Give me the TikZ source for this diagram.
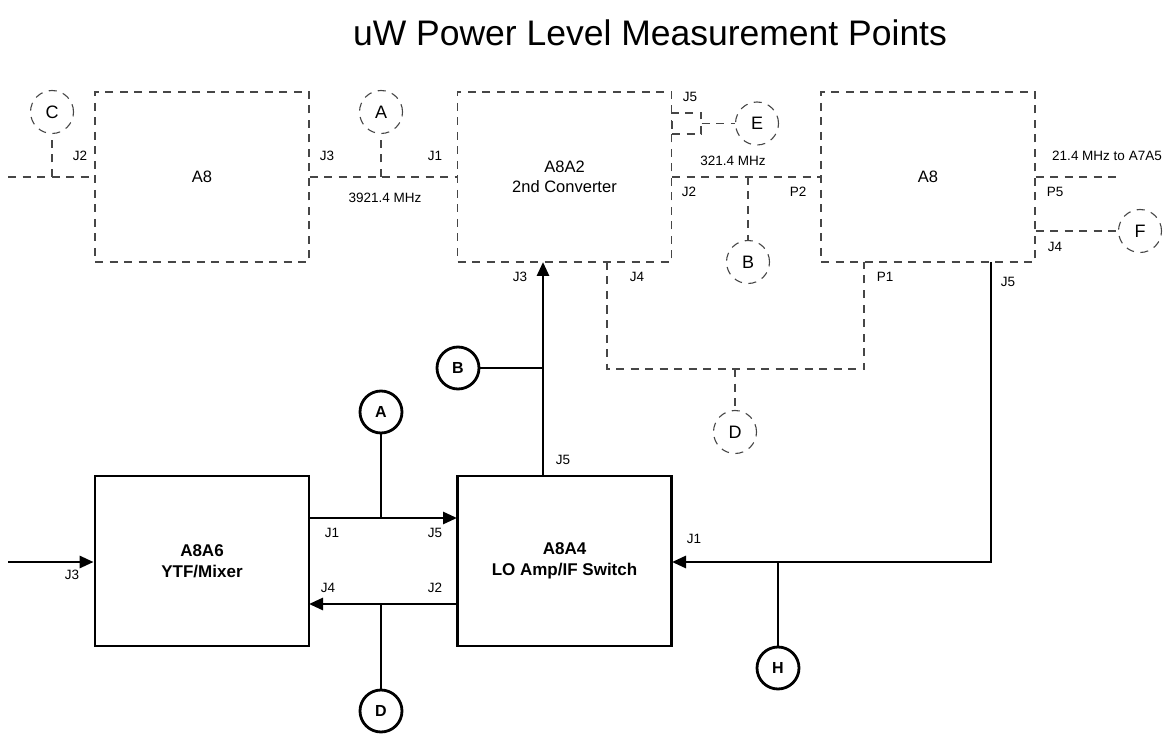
\documentclass[tikz,border=0pt]{standalone}
\usepackage{fontspec}
\setmainfont{Liberation Sans}
\usetikzlibrary{arrows.meta}
\definecolor{dgray}{RGB}{70,70,70}
\tikzset{
  dline/.style={draw=dgray, line width=1.1pt, dash pattern=on 8pt off 6.5pt},
  dbox/.style={dline, rectangle, minimum width=214pt, minimum height=170pt, inner sep=0pt, font=\fontsize{16.5}{20}\selectfont, align=center},
  sline/.style={draw=black, line width=2.8pt},
  sbox/.style={sline, rectangle, minimum width=214pt, minimum height=170pt, inner sep=0pt, font=\bfseries\fontsize{17}{21}\selectfont, align=center},
  dcirc/.style={dline, circle, minimum size=43pt, inner sep=0pt, font=\fontsize{18}{20}\selectfont},
  scirc/.style={sline, circle, minimum size=42pt, inner sep=0pt, font=\bfseries\fontsize{16}{18}\selectfont},
  lbl/.style={inner sep=0pt, font=\fontsize{13.5}{15}\selectfont},
  arr/.style={sline, -{Triangle[length=14pt,width=12pt]}},
}
\begin{document}
\begin{tikzpicture}[x=1pt,y=-1pt]
\useasboundingbox (0,0) rectangle (1175,735);
\node[font=\fontsize{35.5}{40}\selectfont, inner sep=0pt] (title) at (650,33) {uW Power Level Measurement Points};

% top row (dashed)
\node[dbox] (a8l) at (202,177) {A8};
\node[dbox] (a8a2) at (564.5,177) {A8A2\\2nd Converter};
\node[dbox] (a8r) at (928,177) {A8};
\node[dline, rectangle, minimum width=29pt, minimum height=21pt, inner sep=0pt] (j5box) at (686.5,123.5) {};

\node[dcirc] (Ct) at (52,112) {C};
\node[dcirc] (At) at (381,112) {A};
\node[dcirc] (Et) at (757,123.5) {E};
\node[dcirc] (Bt) at (748,262) {B};
\node[dcirc] (Dt) at (735,432) {D};
\node[dcirc] (Ft) at (1140,231) {F};

\coordinate (inl) at (8,177);
\coordinate (cj) at (52,177);
\coordinate (aj) at (381,177);
\coordinate (bj) at (748,177);
\coordinate (outr) at (1118,177);
\coordinate (j4a) at (607,262);
\coordinate (j4b) at (607,369);
\coordinate (p1a) at (864,262);
\coordinate (p1b) at (864,369);
\coordinate (dj) at (735,369);

\draw[dline] (inl) -- (a8l.west);
\draw[dline] (cj) -- (Ct.south);
\draw[dline] (a8l.east) -- (a8a2.west);
\draw[dline] (aj) -- (At.south);
\draw[dline] (j5box.east) -- (Et.west);
\draw[dline] (a8a2.east) -- (a8r.west);
\draw[dline] (bj) -- (Bt.north);
\draw[dline] (a8r.east) -- (outr);
\draw[dline] (a8r.east |- Ft.west) -- (Ft.west);
\draw[dline] (j4a) -- (j4b) -- (p1b) -- (p1a);
\draw[dline] (dj) -- (Dt.north);

% bottom row (solid)
\node[sbox] (a8a6) at (202,561) {A8A6\\YTF/Mixer};
\node[sbox] (a8a4) at (564.5,561) {A8A4\\LO Amp/IF Switch};
\node[scirc] (As) at (381,412) {A};
\node[scirc] (Bs) at (458,368) {B};
\node[scirc] (Ds) at (381,711) {D};
\node[scirc] (Hs) at (778,668) {H};

\coordinate (j3in) at (8,562);
\coordinate (j1o) at (309,518);
\coordinate (j5i) at (457,518);
\coordinate (j2o) at (457,604);
\coordinate (j4i) at (309,604);
\coordinate (j5up) at (543,476);
\coordinate (j3t) at (543,262);
\coordinate (bjs) at (543,368);
\coordinate (ajs) at (381,518);
\coordinate (djs) at (381,604);
\coordinate (j5r) at (991,262);
\coordinate (cr) at (991,562);
\coordinate (j1i) at (672,562);
\coordinate (hj) at (778,562);

\draw[arr] (j3in) -- (j3in -| a8a6.west);
\draw[arr] (j1o) -- (j5i);
\draw[arr] (j2o) -- (j4i);
\draw[arr] (j5up) -- (j3t);
\draw[sline] (Bs.east) -- (bjs);
\draw[sline] (As.south) -- (ajs);
\draw[sline] (djs) -- (Ds.north);
\draw[arr] (j5r) -- (cr) -- (j1i);
\draw[sline] (hj) -- (Hs.north);

% labels
\node[lbl] (l1) at (80,156) {J2};
\node[lbl] (l2) at (327,156) {J3};
\node[lbl] (l3) at (435,156) {J1};
\node[lbl] (l4) at (385,198) {3921.4 MHz};
\node[lbl] (l5) at (690,97) {J5};
\node[lbl] (l6) at (733,161) {321.4 MHz};
\node[lbl] (l7) at (689,192) {J2};
\node[lbl] (l8) at (798,192) {P2};
\node[lbl] (l9) at (1107,156) {21.4 MHz to A7A5};
\node[lbl] (l10) at (1055,192) {P5};
\node[lbl] (l11) at (1055,247) {J4};
\node[lbl] (l12) at (520,277) {J3};
\node[lbl] (l13) at (637,277) {J4};
\node[lbl] (l14) at (885,277) {P1};
\node[lbl] (l15) at (1008,282) {J5};
\node[lbl] (l16) at (563,460) {J5};
\node[lbl] (l17) at (694,539) {J1};
\node[lbl] (l18) at (72,575) {J3};
\node[lbl] (l19) at (332,533) {J1};
\node[lbl] (l20) at (435,533) {J5};
\node[lbl] (l21) at (328,588) {J4};
\node[lbl] (l22) at (435,588) {J2};
\end{tikzpicture}
\end{document}
